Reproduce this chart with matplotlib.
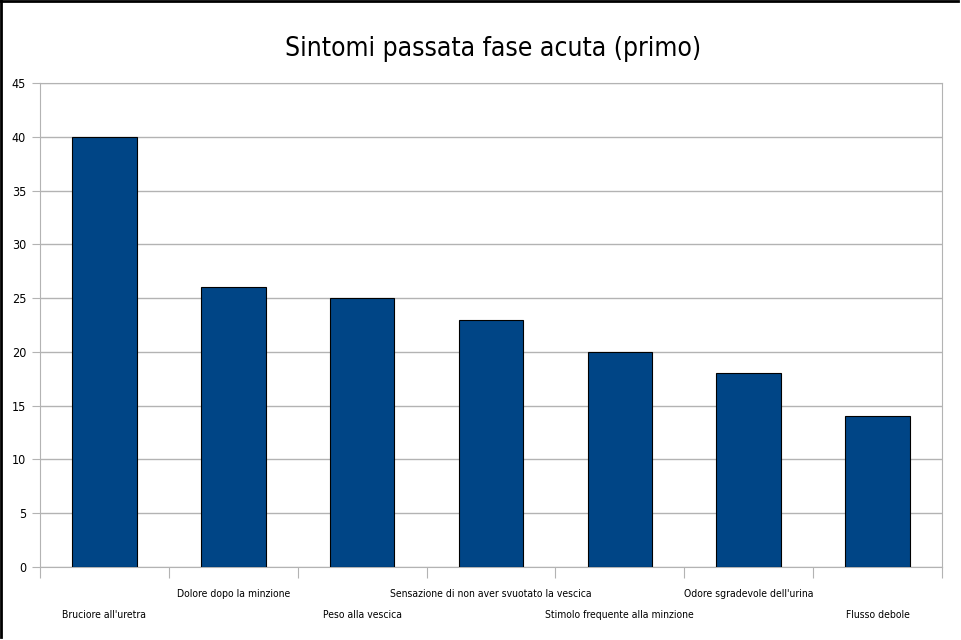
import matplotlib
matplotlib.use("Agg")
import matplotlib.pyplot as plt
from matplotlib.lines import Line2D
import numpy as np

plt.rcParams['font.family'] = ['Liberation Sans Narrow', 'DejaVu Sans']
plt.rcParams['font.stretch'] = 'condensed'

categories = ["Bruciore all'uretra", "Dolore dopo la minzione", "Peso alla vescica",
              "Sensazione di non aver svuotato la vescica", "Stimolo frequente alla minzione",
              "Odore sgradevole dell'urina", "Flusso debole"]
values = [40, 26, 25, 23, 20, 18, 14]
title = "Sintomi passata fase acuta (primo)"

fig = plt.figure(figsize=(9.62, 6.4), dpi=100)
ax = fig.add_axes([40/962, 1 - 567/640, 902/962, 484/640])

x = np.arange(len(values))
ax.bar(x, values, width=0.5, color='#004586', edgecolor='black', linewidth=0.8, zorder=3)

ax.set_xlim(-0.5, len(values) - 0.5)
ax.set_ylim(0, 45)
ax.set_yticks(np.arange(0, 46, 5))
ax.yaxis.grid(True, color='#b3b3b3', linewidth=1, zorder=0)
ax.tick_params(axis='y', length=6, color='#b3b3b3', labelsize=9, pad=4)

# ticks at the category boundaries
ax.set_xticks(np.arange(-0.5, len(values) + 0.5, 1))
ax.set_xticklabels([])
ax.tick_params(axis='x', length=8, color='#b3b3b3', direction='out')

# staggered category labels
for i, name in enumerate(categories):
    y_off = -0.099 if i % 2 == 0 else -0.056
    ax.text(i, y_off, name, transform=ax.get_xaxis_transform(), ha='center', va='center', fontsize=7.5)

for s in ax.spines.values():
    s.set_color('#b3b3b3')

fig.text(493/962, 1 - 49/640, title, ha='center', va='center', fontsize=19)

# black border on top and left
fig.add_artist(Line2D([1/962, 1/962], [0.004, 1], color='black', linewidth=2, transform=fig.transFigure))
fig.add_artist(Line2D([0, 958/962], [1 - 1/640, 1 - 1/640], color='black', linewidth=2, transform=fig.transFigure))

fig.savefig("out.png", dpi=100)
